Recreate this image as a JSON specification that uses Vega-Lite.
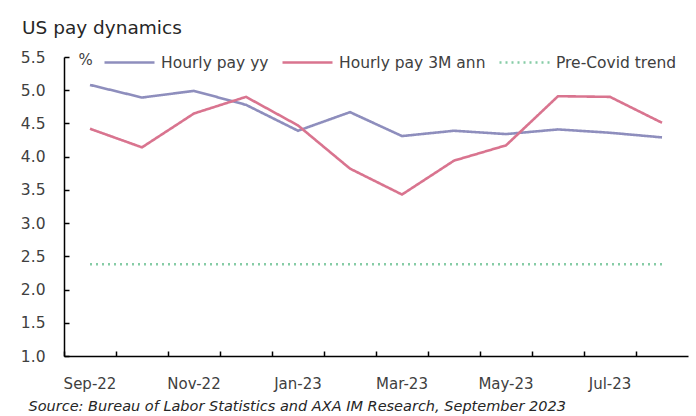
{
  "$schema": "https://vega.github.io/schema/vega-lite/v6.json",
  "width": 624,
  "height": 299,
  "autosize": {"type": "none"},
  "padding": {"left": 64, "top": 57, "right": 8, "bottom": 60},
  "background": "white",
  "config": {
    "font": "DejaVu Sans",
    "view": {"stroke": null}
  },
  "title": {
    "text": "US pay dynamics",
    "anchor": "start",
    "frame": "group",
    "dx": -42,
    "offset": -1,
    "fontSize": 18.5,
    "fontWeight": "normal",
    "color": "#262626",
    "font": "DejaVu Sans"
  },
  "data": {
    "values": [
      {"month": "Sep-22", "series": "Hourly pay yy", "value": 5.08},
      {"month": "Oct-22", "series": "Hourly pay yy", "value": 4.89},
      {"month": "Nov-22", "series": "Hourly pay yy", "value": 4.99},
      {"month": "Dec-22", "series": "Hourly pay yy", "value": 4.78},
      {"month": "Jan-23", "series": "Hourly pay yy", "value": 4.39},
      {"month": "Feb-23", "series": "Hourly pay yy", "value": 4.67},
      {"month": "Mar-23", "series": "Hourly pay yy", "value": 4.31},
      {"month": "Apr-23", "series": "Hourly pay yy", "value": 4.39},
      {"month": "May-23", "series": "Hourly pay yy", "value": 4.34},
      {"month": "Jun-23", "series": "Hourly pay yy", "value": 4.41},
      {"month": "Jul-23", "series": "Hourly pay yy", "value": 4.36},
      {"month": "Aug-23", "series": "Hourly pay yy", "value": 4.29},
      {"month": "Sep-22", "series": "Hourly pay 3M ann", "value": 4.42},
      {"month": "Oct-22", "series": "Hourly pay 3M ann", "value": 4.14},
      {"month": "Nov-22", "series": "Hourly pay 3M ann", "value": 4.65},
      {"month": "Dec-22", "series": "Hourly pay 3M ann", "value": 4.90},
      {"month": "Jan-23", "series": "Hourly pay 3M ann", "value": 4.47},
      {"month": "Feb-23", "series": "Hourly pay 3M ann", "value": 3.82},
      {"month": "Mar-23", "series": "Hourly pay 3M ann", "value": 3.43},
      {"month": "Apr-23", "series": "Hourly pay 3M ann", "value": 3.94},
      {"month": "May-23", "series": "Hourly pay 3M ann", "value": 4.17},
      {"month": "Jun-23", "series": "Hourly pay 3M ann", "value": 4.91},
      {"month": "Jul-23", "series": "Hourly pay 3M ann", "value": 4.90},
      {"month": "Aug-23", "series": "Hourly pay 3M ann", "value": 4.51},
      {"month": "Sep-22", "series": "Pre-Covid trend", "value": 2.38},
      {"month": "Oct-22", "series": "Pre-Covid trend", "value": 2.38},
      {"month": "Nov-22", "series": "Pre-Covid trend", "value": 2.38},
      {"month": "Dec-22", "series": "Pre-Covid trend", "value": 2.38},
      {"month": "Jan-23", "series": "Pre-Covid trend", "value": 2.38},
      {"month": "Feb-23", "series": "Pre-Covid trend", "value": 2.38},
      {"month": "Mar-23", "series": "Pre-Covid trend", "value": 2.38},
      {"month": "Apr-23", "series": "Pre-Covid trend", "value": 2.38},
      {"month": "May-23", "series": "Pre-Covid trend", "value": 2.38},
      {"month": "Jun-23", "series": "Pre-Covid trend", "value": 2.38},
      {"month": "Jul-23", "series": "Pre-Covid trend", "value": 2.38},
      {"month": "Aug-23", "series": "Pre-Covid trend", "value": 2.38}
    ]
  },
  "mark": {"type": "line", "strokeWidth": 2.6},
  "encoding": {
    "x": {
      "field": "month",
      "type": "ordinal",
      "sort": null,
      "scale": {"type": "band", "paddingInner": 0, "paddingOuter": 0},
      "axis": {
        "title": "Source: Bureau of Labor Statistics and AXA IM Research, September 2023",
        "titleFontStyle": "italic",
        "titleFontWeight": "normal",
        "titleFontSize": 14.5,
        "titleColor": "#262626",
        "titleAnchor": "start",
        "titleAlign": "left",
        "titleBaseline": "alphabetic",
        "titleX": -36,
        "titleY": 54,
        "bandPosition": 0,
        "labelAngle": 0,
        "labelExpr": "indexof(['Sep-22','Nov-22','Jan-23','Mar-23','May-23','Jul-23'], datum.value) >= 0 ? datum.value : ''",
        "labelFontSize": 15,
        "labelColor": "#404040",
        "labelPadding": 32,
        "labelBaseline": "middle",
        "tickSize": -5,
        "tickColor": "#000000",
        "tickWidth": 1.5,
        "domainColor": "#000000",
        "domainWidth": 1.5,
        "grid": false
      }
    },
    "y": {
      "field": "value",
      "type": "quantitative",
      "scale": {"domain": [1, 5.5], "nice": false, "zero": false},
      "axis": {
        "values": [1, 1.5, 2, 2.5, 3, 3.5, 4, 4.5, 5, 5.5],
        "format": ".1f",
        "title": "%",
        "titleAngle": 0,
        "titleAlign": "left",
        "titleBaseline": "middle",
        "titleX": 14,
        "titleY": 2,
        "titleFontSize": 15,
        "titleFontWeight": "normal",
        "titleColor": "#404040",
        "labelFontSize": 15.5,
        "labelColor": "#404040",
        "labelPadding": 24,
        "tickSize": -5,
        "tickColor": "#000000",
        "tickWidth": 1.5,
        "domainColor": "#000000",
        "domainWidth": 1.5,
        "grid": false
      }
    },
    "color": {
      "field": "series",
      "type": "nominal",
      "title": null,
      "scale": {
        "domain": ["Hourly pay yy", "Hourly pay 3M ann", "Pre-Covid trend"],
        "range": ["#8E8EBD", "#D9748F", "#86CCA6"]
      },
      "legend": {
        "orient": "none",
        "legendX": 39,
        "legendY": -21,
        "direction": "horizontal",
        "symbolType": "stroke",
        "symbolSize": 2500,
        "symbolStrokeWidth": 2.6,
        "labelFontSize": 15.5,
        "labelColor": "#404040",
        "labelOffset": 5,
        "columnPadding": 8
      }
    },
    "strokeDash": {
      "field": "series",
      "type": "nominal",
      "title": null,
      "scale": {
        "domain": ["Hourly pay yy", "Hourly pay 3M ann", "Pre-Covid trend"],
        "range": [[1, 0], [1, 0], [2, 4]]
      }
    }
  }
}
